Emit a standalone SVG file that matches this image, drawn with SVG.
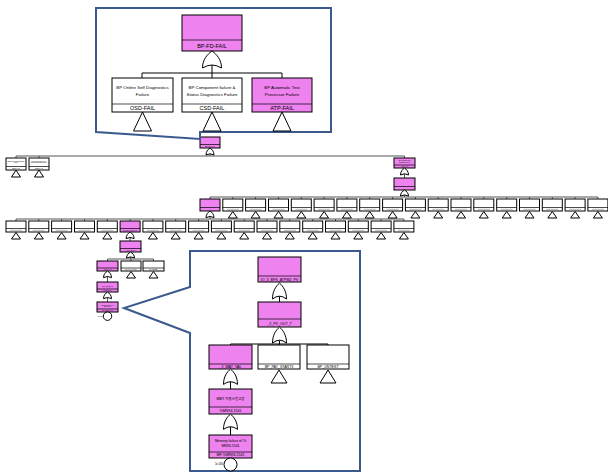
<svg xmlns="http://www.w3.org/2000/svg" width="608" height="473" viewBox="0 0 608 473">
<style>
text{font-family:"Liberation Sans","Noto Sans CJK KR",Arial,sans-serif;fill:#000}
.pk{fill:#EE82EE;stroke:#000;stroke-width:1}
.wh{fill:#fff;stroke:#000;stroke-width:1}
.sp{stroke:#000;stroke-width:0.7}
.cn{fill:none;stroke:#000;stroke-width:1}
.cg{fill:none;stroke:#555;stroke-width:1}
.tri{fill:#fff;stroke:#000;stroke-width:1}
.gt{fill:#fff;stroke:#000;stroke-width:1;vector-effect:non-scaling-stroke}
.call{fill:#fff;stroke:#3A5A8E;stroke-width:2}
.bar{fill:#b0b0b0}
.d{font-size:4.4px;text-anchor:middle}
.l{font-size:5.5px;text-anchor:middle}
.bd{font-size:3.5px;text-anchor:middle}
.bl{font-size:3.6px;text-anchor:middle}
.ts{font-size:1.4px;text-anchor:middle}
.tl{font-size:1.8px;text-anchor:middle}
</style>
<defs>
<path id="or" class="gt" d="M-10,20 C-10,10 -5,4 0,0 C5,4 10,10 10,20 Q0,13 -10,20 Z"/>
</defs>

<!-- connectors of the main tree -->
<g id="connectors">
<path class="cg" d="M16,156 H404.5 M16,156 V158 M39,156 V158 M404.5,156 V158 M210,153.8 V156 M404.5,173.8 V178 M404.5,195 V197"/>
<path class="cg" d="M210,197 H597.9 M210,197 V199 M232.8,197 V199 M255.6,197 V199 M278.5,197 V199 M301.3,197 V199 M324.1,197 V199 M346.9,197 V199 M369.7,197 V199 M392.6,197 V199 M415.4,197 V199 M438.2,197 V199 M461,197 V199 M483.8,197 V199 M506.7,197 V199 M529.5,197 V199 M552.3,197 V199 M575.1,197 V199 M597.9,197 V199"/>
<path class="cg" d="M210,216.4 V219 M16,219 H403.9 M16,219 V221 M38.8,219 V221 M61.6,219 V221 M84.5,219 V221 M107.3,219 V221 M130.1,219 V221 M152.9,219 V221 M175.7,219 V221 M198.6,219 V221 M221.4,219 V221 M244.2,219 V221 M267,219 V221 M289.8,219 V221 M312.7,219 V221 M335.5,219 V221 M358.3,219 V221 M381.1,219 V221 M403.9,219 V221"/>
<path class="cg" d="M130.1,237.4 V241 M130.5,257 V259 M107.5,259 H153.5 M107.5,259 V261 M131,259 V261 M153.5,259 V261 M107.5,276.4 V282 M107.5,297.4 V302"/>
</g>

<!-- main tree nodes -->
<g id="n-bpfd">
<rect class="pk" x="200" y="137" width="20" height="11"/><line class="sp" x1="200" y1="144.5" x2="220" y2="144.5"/>
<text class="tl" x="210" y="147.3">BP-FD-FAIL</text>
<use href="#or" transform="translate(210,148) scale(0.4,0.35)"/>
</g>
<g id="n-osd">
<rect class="wh" x="6" y="158" width="20" height="12"/><line class="sp" x1="6" y1="166.5" x2="26" y2="166.5"/>
<text class="ts" x="16" y="161.5">BP Online Self Diagnostics</text><text class="ts" x="16" y="163.3">Failure</text>
<text class="tl" x="16" y="169">OSD-FAIL</text>
<polygon class="tri" points="16,170 11.5,177 20.5,177"/>
</g>
<g id="n-csd">
<rect class="wh" x="29" y="158" width="20" height="12"/><line class="sp" x1="29" y1="166.5" x2="49" y2="166.5"/>
<text class="ts" x="39" y="161.5">BP Component failure &amp;</text><text class="ts" x="39" y="163.3">Status Diagnostics Failure</text>
<text class="tl" x="39" y="169">CSD-FAIL</text>
<polygon class="tri" points="39,170 34.5,177 43.5,177"/>
</g>
<g id="n-atp">
<rect class="pk" x="394" y="158" width="21" height="10"/><line class="sp" x1="394" y1="165" x2="415" y2="165"/>
<text class="ts" x="404.5" y="161">BP Automatic Test</text><text class="ts" x="404.5" y="162.8">Processor Failure</text>
<text class="tl" x="404.5" y="167.3">ATP-FAIL</text>
<use href="#or" transform="translate(404.5,168) scale(0.4,0.35)"/>
</g>
<g id="n-atp2">
<rect class="pk" x="394" y="178" width="21" height="12"/><line class="sp" x1="394" y1="186.5" x2="415" y2="186.5"/>
<use href="#or" transform="translate(404.5,190) scale(0.4,0.3)"/>
</g>

<!-- row 1 -->
<g id="r1-0"><rect class="pk" x="200" y="199" width="20" height="12"/><line class="sp" x1="200" y1="207.5" x2="220" y2="207.5"/><use href="#or" transform="translate(210,211) scale(0.4,0.33)"/></g>
<g id="r1-1"><rect class="wh" x="222.8" y="199" width="20" height="12"/><line class="sp" x1="222.8" y1="207.5" x2="242.8" y2="207.5"/><rect class="bar" x="226.8" y="208.8" width="12" height="0.9"/><polygon class="tri" points="232.8,211.5 228.3,218 237.3,218"/></g>
<g id="r1-2"><rect class="wh" x="245.6" y="199" width="20" height="12"/><line class="sp" x1="245.6" y1="207.5" x2="265.6" y2="207.5"/><rect class="bar" x="249.6" y="208.8" width="12" height="0.9"/><polygon class="tri" points="255.6,211.5 251.1,218 260.1,218"/></g>
<g id="r1-3"><rect class="wh" x="268.5" y="199" width="20" height="12"/><line class="sp" x1="268.5" y1="207.5" x2="288.5" y2="207.5"/><rect class="bar" x="272.5" y="208.8" width="12" height="0.9"/><polygon class="tri" points="278.5,211.5 274,218 283,218"/></g>
<g id="r1-4"><rect class="wh" x="291.3" y="199" width="20" height="12"/><line class="sp" x1="291.3" y1="207.5" x2="311.3" y2="207.5"/><rect class="bar" x="295.3" y="208.8" width="12" height="0.9"/><polygon class="tri" points="301.3,211.5 296.8,218 305.8,218"/></g>
<g id="r1-5"><rect class="wh" x="314.1" y="199" width="20" height="12"/><line class="sp" x1="314.1" y1="207.5" x2="334.1" y2="207.5"/><rect class="bar" x="318.1" y="208.8" width="12" height="0.9"/><polygon class="tri" points="324.1,211.5 319.6,218 328.6,218"/></g>
<g id="r1-6"><rect class="wh" x="336.9" y="199" width="20" height="12"/><line class="sp" x1="336.9" y1="207.5" x2="356.9" y2="207.5"/><rect class="bar" x="340.9" y="208.8" width="12" height="0.9"/><polygon class="tri" points="346.9,211.5 342.4,218 351.4,218"/></g>
<g id="r1-7"><rect class="wh" x="359.7" y="199" width="20" height="12"/><line class="sp" x1="359.7" y1="207.5" x2="379.7" y2="207.5"/><rect class="bar" x="363.7" y="208.8" width="12" height="0.9"/><polygon class="tri" points="369.7,211.5 365.2,218 374.2,218"/></g>
<g id="r1-8"><rect class="wh" x="382.6" y="199" width="20" height="12"/><line class="sp" x1="382.6" y1="207.5" x2="402.6" y2="207.5"/><rect class="bar" x="386.6" y="208.8" width="12" height="0.9"/><polygon class="tri" points="392.6,211.5 388.1,218 397.1,218"/></g>
<g id="r1-9"><rect class="wh" x="405.4" y="199" width="20" height="12"/><line class="sp" x1="405.4" y1="207.5" x2="425.4" y2="207.5"/><rect class="bar" x="409.4" y="208.8" width="12" height="0.9"/><polygon class="tri" points="415.4,211.5 410.9,218 419.9,218"/></g>
<g id="r1-10"><rect class="wh" x="428.2" y="199" width="20" height="12"/><line class="sp" x1="428.2" y1="207.5" x2="448.2" y2="207.5"/><rect class="bar" x="432.2" y="208.8" width="12" height="0.9"/><polygon class="tri" points="438.2,211.5 433.7,218 442.7,218"/></g>
<g id="r1-11"><rect class="wh" x="451" y="199" width="20" height="12"/><line class="sp" x1="451" y1="207.5" x2="471" y2="207.5"/><rect class="bar" x="455" y="208.8" width="12" height="0.9"/><polygon class="tri" points="461,211.5 456.5,218 465.5,218"/></g>
<g id="r1-12"><rect class="wh" x="473.8" y="199" width="20" height="12"/><line class="sp" x1="473.8" y1="207.5" x2="493.8" y2="207.5"/><rect class="bar" x="477.8" y="208.8" width="12" height="0.9"/><polygon class="tri" points="483.8,211.5 479.3,218 488.3,218"/></g>
<g id="r1-13"><rect class="wh" x="496.7" y="199" width="20" height="12"/><line class="sp" x1="496.7" y1="207.5" x2="516.7" y2="207.5"/><rect class="bar" x="500.7" y="208.8" width="12" height="0.9"/><polygon class="tri" points="506.7,211.5 502.2,218 511.2,218"/></g>
<g id="r1-14"><rect class="wh" x="519.5" y="199" width="20" height="12"/><line class="sp" x1="519.5" y1="207.5" x2="539.5" y2="207.5"/><rect class="bar" x="523.5" y="208.8" width="12" height="0.9"/><polygon class="tri" points="529.5,211.5 525,218 534,218"/></g>
<g id="r1-15"><rect class="wh" x="542.3" y="199" width="20" height="12"/><line class="sp" x1="542.3" y1="207.5" x2="562.3" y2="207.5"/><rect class="bar" x="546.3" y="208.8" width="12" height="0.9"/><polygon class="tri" points="552.3,211.5 547.8,218 556.8,218"/></g>
<g id="r1-16"><rect class="wh" x="565.1" y="199" width="20" height="12"/><line class="sp" x1="565.1" y1="207.5" x2="585.1" y2="207.5"/><rect class="bar" x="569.1" y="208.8" width="12" height="0.9"/><polygon class="tri" points="575.1,211.5 570.6,218 579.6,218"/></g>
<g id="r1-17"><rect class="wh" x="587.9" y="199" width="20" height="12"/><line class="sp" x1="587.9" y1="207.5" x2="607.9" y2="207.5"/><rect class="bar" x="591.9" y="208.8" width="12" height="0.9"/><polygon class="tri" points="597.9,211.5 593.4,218 602.4,218"/></g>

<!-- row 2 -->
<g id="r2-0"><rect class="wh" x="6" y="221" width="20" height="11"/><line class="sp" x1="6" y1="228.5" x2="26" y2="228.5"/><rect class="bar" x="10" y="229.8" width="12" height="0.9"/><polygon class="tri" points="16,232.5 11.5,239 20.5,239"/></g>
<g id="r2-1"><rect class="wh" x="28.8" y="221" width="20" height="11"/><line class="sp" x1="28.8" y1="228.5" x2="48.8" y2="228.5"/><rect class="bar" x="32.8" y="229.8" width="12" height="0.9"/><polygon class="tri" points="38.8,232.5 34.3,239 43.3,239"/></g>
<g id="r2-2"><rect class="wh" x="51.6" y="221" width="20" height="11"/><line class="sp" x1="51.6" y1="228.5" x2="71.6" y2="228.5"/><rect class="bar" x="55.6" y="229.8" width="12" height="0.9"/><polygon class="tri" points="61.6,232.5 57.1,239 66.1,239"/></g>
<g id="r2-3"><rect class="wh" x="74.5" y="221" width="20" height="11"/><line class="sp" x1="74.5" y1="228.5" x2="94.5" y2="228.5"/><rect class="bar" x="78.5" y="229.8" width="12" height="0.9"/><polygon class="tri" points="84.5,232.5 80,239 89,239"/></g>
<g id="r2-4"><rect class="wh" x="97.3" y="221" width="20" height="11"/><line class="sp" x1="97.3" y1="228.5" x2="117.3" y2="228.5"/><rect class="bar" x="101.3" y="229.8" width="12" height="0.9"/><polygon class="tri" points="107.3,232.5 102.8,239 111.8,239"/></g>
<g id="r2-5"><rect class="pk" x="120.1" y="221" width="20" height="11"/><line class="sp" x1="120.1" y1="228.5" x2="140.1" y2="228.5"/><text class="ts" x="130.1" y="231">IO_3_BPS_ATPM2_PV</text><use href="#or" transform="translate(130.1,232) scale(0.4,0.33)"/></g>
<g id="r2-6"><rect class="wh" x="142.9" y="221" width="20" height="11"/><line class="sp" x1="142.9" y1="228.5" x2="162.9" y2="228.5"/><rect class="bar" x="146.9" y="229.8" width="12" height="0.9"/><polygon class="tri" points="152.9,232.5 148.4,239 157.4,239"/></g>
<g id="r2-7"><rect class="wh" x="165.7" y="221" width="20" height="11"/><line class="sp" x1="165.7" y1="228.5" x2="185.7" y2="228.5"/><rect class="bar" x="169.7" y="229.8" width="12" height="0.9"/><polygon class="tri" points="175.7,232.5 171.2,239 180.2,239"/></g>
<g id="r2-8"><rect class="wh" x="188.6" y="221" width="20" height="11"/><line class="sp" x1="188.6" y1="228.5" x2="208.6" y2="228.5"/><rect class="bar" x="192.6" y="229.8" width="12" height="0.9"/><polygon class="tri" points="198.6,232.5 194.1,239 203.1,239"/></g>
<g id="r2-9"><rect class="wh" x="211.4" y="221" width="20" height="11"/><line class="sp" x1="211.4" y1="228.5" x2="231.4" y2="228.5"/><rect class="bar" x="215.4" y="229.8" width="12" height="0.9"/><polygon class="tri" points="221.4,232.5 216.9,239 225.9,239"/></g>
<g id="r2-10"><rect class="wh" x="234.2" y="221" width="20" height="11"/><line class="sp" x1="234.2" y1="228.5" x2="254.2" y2="228.5"/><rect class="bar" x="238.2" y="229.8" width="12" height="0.9"/><polygon class="tri" points="244.2,232.5 239.7,239 248.7,239"/></g>
<g id="r2-11"><rect class="wh" x="257" y="221" width="20" height="11"/><line class="sp" x1="257" y1="228.5" x2="277" y2="228.5"/><rect class="bar" x="261" y="229.8" width="12" height="0.9"/><polygon class="tri" points="267,232.5 262.5,239 271.5,239"/></g>
<g id="r2-12"><rect class="wh" x="279.8" y="221" width="20" height="11"/><line class="sp" x1="279.8" y1="228.5" x2="299.8" y2="228.5"/><rect class="bar" x="283.8" y="229.8" width="12" height="0.9"/><polygon class="tri" points="289.8,232.5 285.3,239 294.3,239"/></g>
<g id="r2-13"><rect class="wh" x="302.7" y="221" width="20" height="11"/><line class="sp" x1="302.7" y1="228.5" x2="322.7" y2="228.5"/><rect class="bar" x="306.7" y="229.8" width="12" height="0.9"/><polygon class="tri" points="312.7,232.5 308.2,239 317.2,239"/></g>
<g id="r2-14"><rect class="wh" x="325.5" y="221" width="20" height="11"/><line class="sp" x1="325.5" y1="228.5" x2="345.5" y2="228.5"/><rect class="bar" x="329.5" y="229.8" width="12" height="0.9"/><polygon class="tri" points="335.5,232.5 331,239 340,239"/></g>
<g id="r2-15"><rect class="wh" x="348.3" y="221" width="20" height="11"/><line class="sp" x1="348.3" y1="228.5" x2="368.3" y2="228.5"/><rect class="bar" x="352.3" y="229.8" width="12" height="0.9"/><polygon class="tri" points="358.3,232.5 353.8,239 362.8,239"/></g>
<g id="r2-16"><rect class="wh" x="371.1" y="221" width="20" height="11"/><line class="sp" x1="371.1" y1="228.5" x2="391.1" y2="228.5"/><rect class="bar" x="375.1" y="229.8" width="12" height="0.9"/><polygon class="tri" points="381.1,232.5 376.6,239 385.6,239"/></g>
<g id="r2-17"><rect class="wh" x="393.9" y="221" width="20" height="11"/><line class="sp" x1="393.9" y1="228.5" x2="413.9" y2="228.5"/><rect class="bar" x="397.9" y="229.8" width="12" height="0.9"/><polygon class="tri" points="403.9,232.5 399.4,239 408.4,239"/></g>

<!-- lower chain in main tree -->
<g id="n-pvout"><rect class="pk" x="120" y="241" width="21" height="11"/><line class="sp" x1="120" y1="248.5" x2="141" y2="248.5"/><text class="ts" x="130.5" y="251">_2_PV_OUT_T</text><use href="#or" transform="translate(130.5,252) scale(0.4,0.3)"/></g>
<g id="n-matval"><rect class="pk" x="97" y="261" width="21" height="10"/><line class="sp" x1="97" y1="268" x2="118" y2="268"/><text class="ts" x="107.5" y="270.3">_2_MAT_VAL</text><use href="#or" transform="translate(107.5,271) scale(0.4,0.33)"/></g>
<g id="n-patstart"><rect class="wh" x="121" y="261" width="20" height="10"/><line class="sp" x1="121" y1="268" x2="141" y2="268"/><text class="ts" x="131" y="270.3">BP_PAT_START3</text><polygon class="tri" points="131,271.5 126.5,278 135.5,278"/></g>
<g id="n-untest"><rect class="wh" x="143" y="261" width="21" height="10"/><line class="sp" x1="143" y1="268" x2="164" y2="268"/><text class="ts" x="153.5" y="270.3">BP_UNTEST</text><polygon class="tri" points="153.5,271.5 149,278 158,278"/></g>
<g id="n-mn94"><rect class="pk" x="97" y="282" width="21" height="10"/><line class="sp" x1="97" y1="289" x2="118" y2="289"/><text class="ts" x="107.5" y="286.5">MMT 자동시험고장</text><text class="ts" x="107.5" y="291.3">%MN94.1541</text><use href="#or" transform="translate(107.5,292) scale(0.4,0.33)"/></g>
<g id="n-mf"><rect class="pk" x="97" y="302" width="21" height="10"/><line class="sp" x1="97" y1="309" x2="118" y2="309"/><text class="ts" x="107.5" y="305.5">Memory failure of %</text><text class="ts" x="107.5" y="307.3">MN94.1541</text><text class="ts" x="107.5" y="311.3">MF-%MN94.1541</text><circle class="wh" cx="107.5" cy="316.2" r="4.2"/><text style="font-size:1.8px;text-anchor:end" x="103" y="317">1e-006</text></g>

<!-- top callout -->
<g id="callout-top">
<polygon class="call" points="96,8 331,8 331,132 200,132 200,139 96,132"/>
<path class="cn" d="M212,65 V73 M142,73 H282 M142,73 V78 M212,73 V78 M282,73 V78"/>
<g id="c-bpfd"><rect class="pk" x="182" y="15" width="60" height="36"/><line class="sp" x1="182" y1="40" x2="242" y2="40"/><text class="l" x="212" y="47.8">BP-FD-FAIL</text><use href="#or" transform="translate(212,51) scale(0.95,0.85)"/></g>
<g id="c-osd"><rect class="wh" x="112" y="78" width="61" height="34"/><line class="sp" x1="112" y1="104" x2="173" y2="104"/><text class="d" x="142.5" y="89">BP Online Self Diagnostics</text><text class="d" x="142.5" y="95.5">Failure</text><text class="l" x="142.5" y="110">OSD-FAIL</text><polygon class="tri" points="142.5,112 133.5,131 151.5,131"/></g>
<g id="c-csd"><rect class="wh" x="182" y="78" width="60" height="34"/><line class="sp" x1="182" y1="104" x2="242" y2="104"/><text class="d" x="212" y="89">BP Component failure &amp;</text><text class="d" x="212" y="95.5">Status Diagnostics Failure</text><text class="l" x="212" y="110">CSD-FAIL</text><polygon class="tri" points="212,112 203,131 221,131"/></g>
<g id="c-atp"><rect class="pk" x="252" y="78" width="60" height="34"/><line class="sp" x1="252" y1="104" x2="312" y2="104"/><text class="d" x="282" y="89">BP Automatic Test</text><text class="d" x="282" y="95.5">Processor Failure</text><text class="l" x="282" y="110">ATP-FAIL</text><polygon class="tri" points="282,112 273,131 291,131"/></g>
</g>

<!-- bottom callout -->
<g id="callout-bottom">
<polygon class="call" points="190,251 360,251 360,471 190,471 190,333 124,308 190,287"/>
<path class="cn" d="M279.5,296.2 V302 M279.5,340.4 V344 M230.5,344 H328 M230.5,344 V345 M279,344 V345 M328,344 V345 M230.5,381.6 V389 M230.5,426.6 V435"/>
<g id="b-atpm"><rect class="pk" x="258" y="257" width="43" height="25"/><line class="sp" x1="258" y1="276" x2="301" y2="276"/><text class="bl" x="279.5" y="280.6">IO_3_BPS_ATPM2_PV</text><use href="#or" transform="translate(279.5,283) scale(0.7,0.8)"/></g>
<g id="b-pvout"><rect class="pk" x="258" y="302" width="43" height="25"/><line class="sp" x1="258" y1="319" x2="301" y2="319"/><text class="bl" x="279.5" y="324.6">_2_PV_OUT_T</text><use href="#or" transform="translate(279.5,327) scale(0.7,0.8)"/></g>
<g id="b-matval"><rect class="pk" x="209" y="345" width="43" height="24"/><line class="sp" x1="209" y1="364" x2="252" y2="364"/><text class="bl" x="230.5" y="368">_2_MAT_VAL</text><use href="#or" transform="translate(230.5,369) scale(0.7,0.77)"/></g>
<g id="b-patstart"><rect class="wh" x="258" y="345" width="42" height="24"/><line class="sp" x1="258" y1="364" x2="300" y2="364"/><text class="bl" x="279" y="368">BP_PAT_START3</text><polygon class="tri" points="279,370 271,383 287,383"/></g>
<g id="b-untest"><rect class="wh" x="307" y="345" width="42" height="24"/><line class="sp" x1="307" y1="364" x2="349" y2="364"/><text class="bl" x="328" y="368">BP_UNTEST</text><polygon class="tri" points="328,370 320,383 336,383"/></g>
<g id="b-mn94"><rect class="pk" x="209" y="389" width="43" height="25"/><line class="sp" x1="209" y1="407" x2="252" y2="407"/><text class="bd" x="230.5" y="399.5">MMT 자동시험고장</text><text class="bl" x="230.5" y="412">%MN94.1541</text><use href="#or" transform="translate(230.5,414) scale(0.7,0.77)"/></g>
<g id="b-mf"><rect class="pk" x="209" y="435" width="43" height="23"/><line class="sp" x1="209" y1="452" x2="252" y2="452"/><text class="bd" x="230.5" y="442">Memory failure of %</text><text class="bd" x="230.5" y="446.5">MN94.1541</text><text class="bl" x="230.5" y="456.4">MF-%MN94.1541</text><circle class="wh" cx="230.5" cy="464.5" r="6.5"/><text style="font-size:2.6px;text-anchor:end" x="223" y="465">1e-006</text></g>
</g>
</svg>
